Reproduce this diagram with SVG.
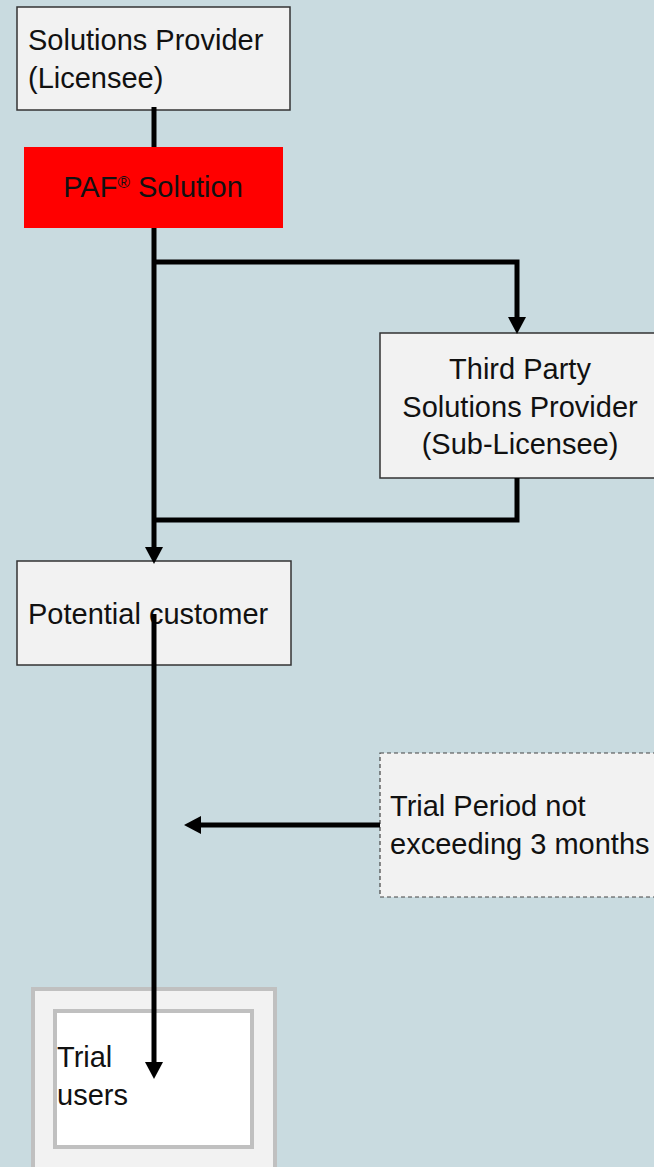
<svg xmlns="http://www.w3.org/2000/svg" width="654" height="1167" viewBox="0 0 654 1167">
<style>
text{font-family:"Liberation Sans",Arial,sans-serif;font-size:29px;fill:#111}
.box{fill:#f2f2f2;stroke:#333;stroke-width:1.5}
.c{fill:none;stroke:#000;stroke-width:5}
.mid{text-anchor:middle}
</style>
<defs>
<marker id="ah" markerUnits="userSpaceOnUse" markerWidth="17" markerHeight="18" viewBox="0 0 17 18" refX="0" refY="9" orient="auto">
<path d="M0,0 L17,9 L0,18 z" fill="#000"/>
</marker>
</defs>
<rect width="654" height="1167" fill="#c9dbe0"/>
<g id="n-provider">
<rect class="box" x="17" y="7" width="273" height="103"/>
<text x="28" y="50">Solutions Provider</text>
<text x="28" y="88">(Licensee)</text>
</g>
<g id="n-paf">
<rect x="24" y="147" width="259" height="81" fill="#ff0000"/>
<text class="mid" x="153" y="197">PAF<tspan font-size="17" dy="-9">®</tspan><tspan dy="9"> Solution</tspan></text>
</g>
<g id="n-third">
<rect class="box" x="380" y="333" width="280" height="145"/>
<text class="mid" x="520" y="379">Third Party</text>
<text class="mid" x="520" y="417">Solutions Provider</text>
<text class="mid" x="520" y="454">(Sub-Licensee)</text>
</g>
<g id="n-customer">
<rect class="box" x="17" y="561" width="274" height="104"/>
<text x="28" y="624">Potential customer</text>
</g>
<g id="n-period">
<rect x="380" y="753" width="280" height="144" fill="#f2f2f2" stroke="#444" stroke-width="1.2" stroke-dasharray="4,3"/>
<text x="390" y="816">Trial Period not</text>
<text x="390" y="854">exceeding 3 months</text>
</g>
<g id="n-trial">
<rect x="33" y="989" width="242" height="190" fill="#f2f2f2" stroke="#c0c0c0" stroke-width="4"/>
<rect x="55" y="1011" width="197" height="136" fill="#ffffff" stroke="#c0c0c0" stroke-width="4"/>
<text x="57" y="1067">Trial</text>
<text x="57" y="1105">users</text>
</g>
<g id="connectors">
<line class="c" x1="154" y1="107" x2="154" y2="147"/>
<line class="c" x1="154" y1="228" x2="154" y2="547" marker-end="url(#ah)"/>
<polyline class="c" points="154,262 517,262 517,317" marker-end="url(#ah)"/>
<polyline class="c" points="517,478 517,520 154,520"/>
<line class="c" x1="154" y1="614" x2="154" y2="1062" marker-end="url(#ah)"/>
<line class="c" x1="380" y1="825" x2="201" y2="825" marker-end="url(#ah)"/>
</g>
</svg>
